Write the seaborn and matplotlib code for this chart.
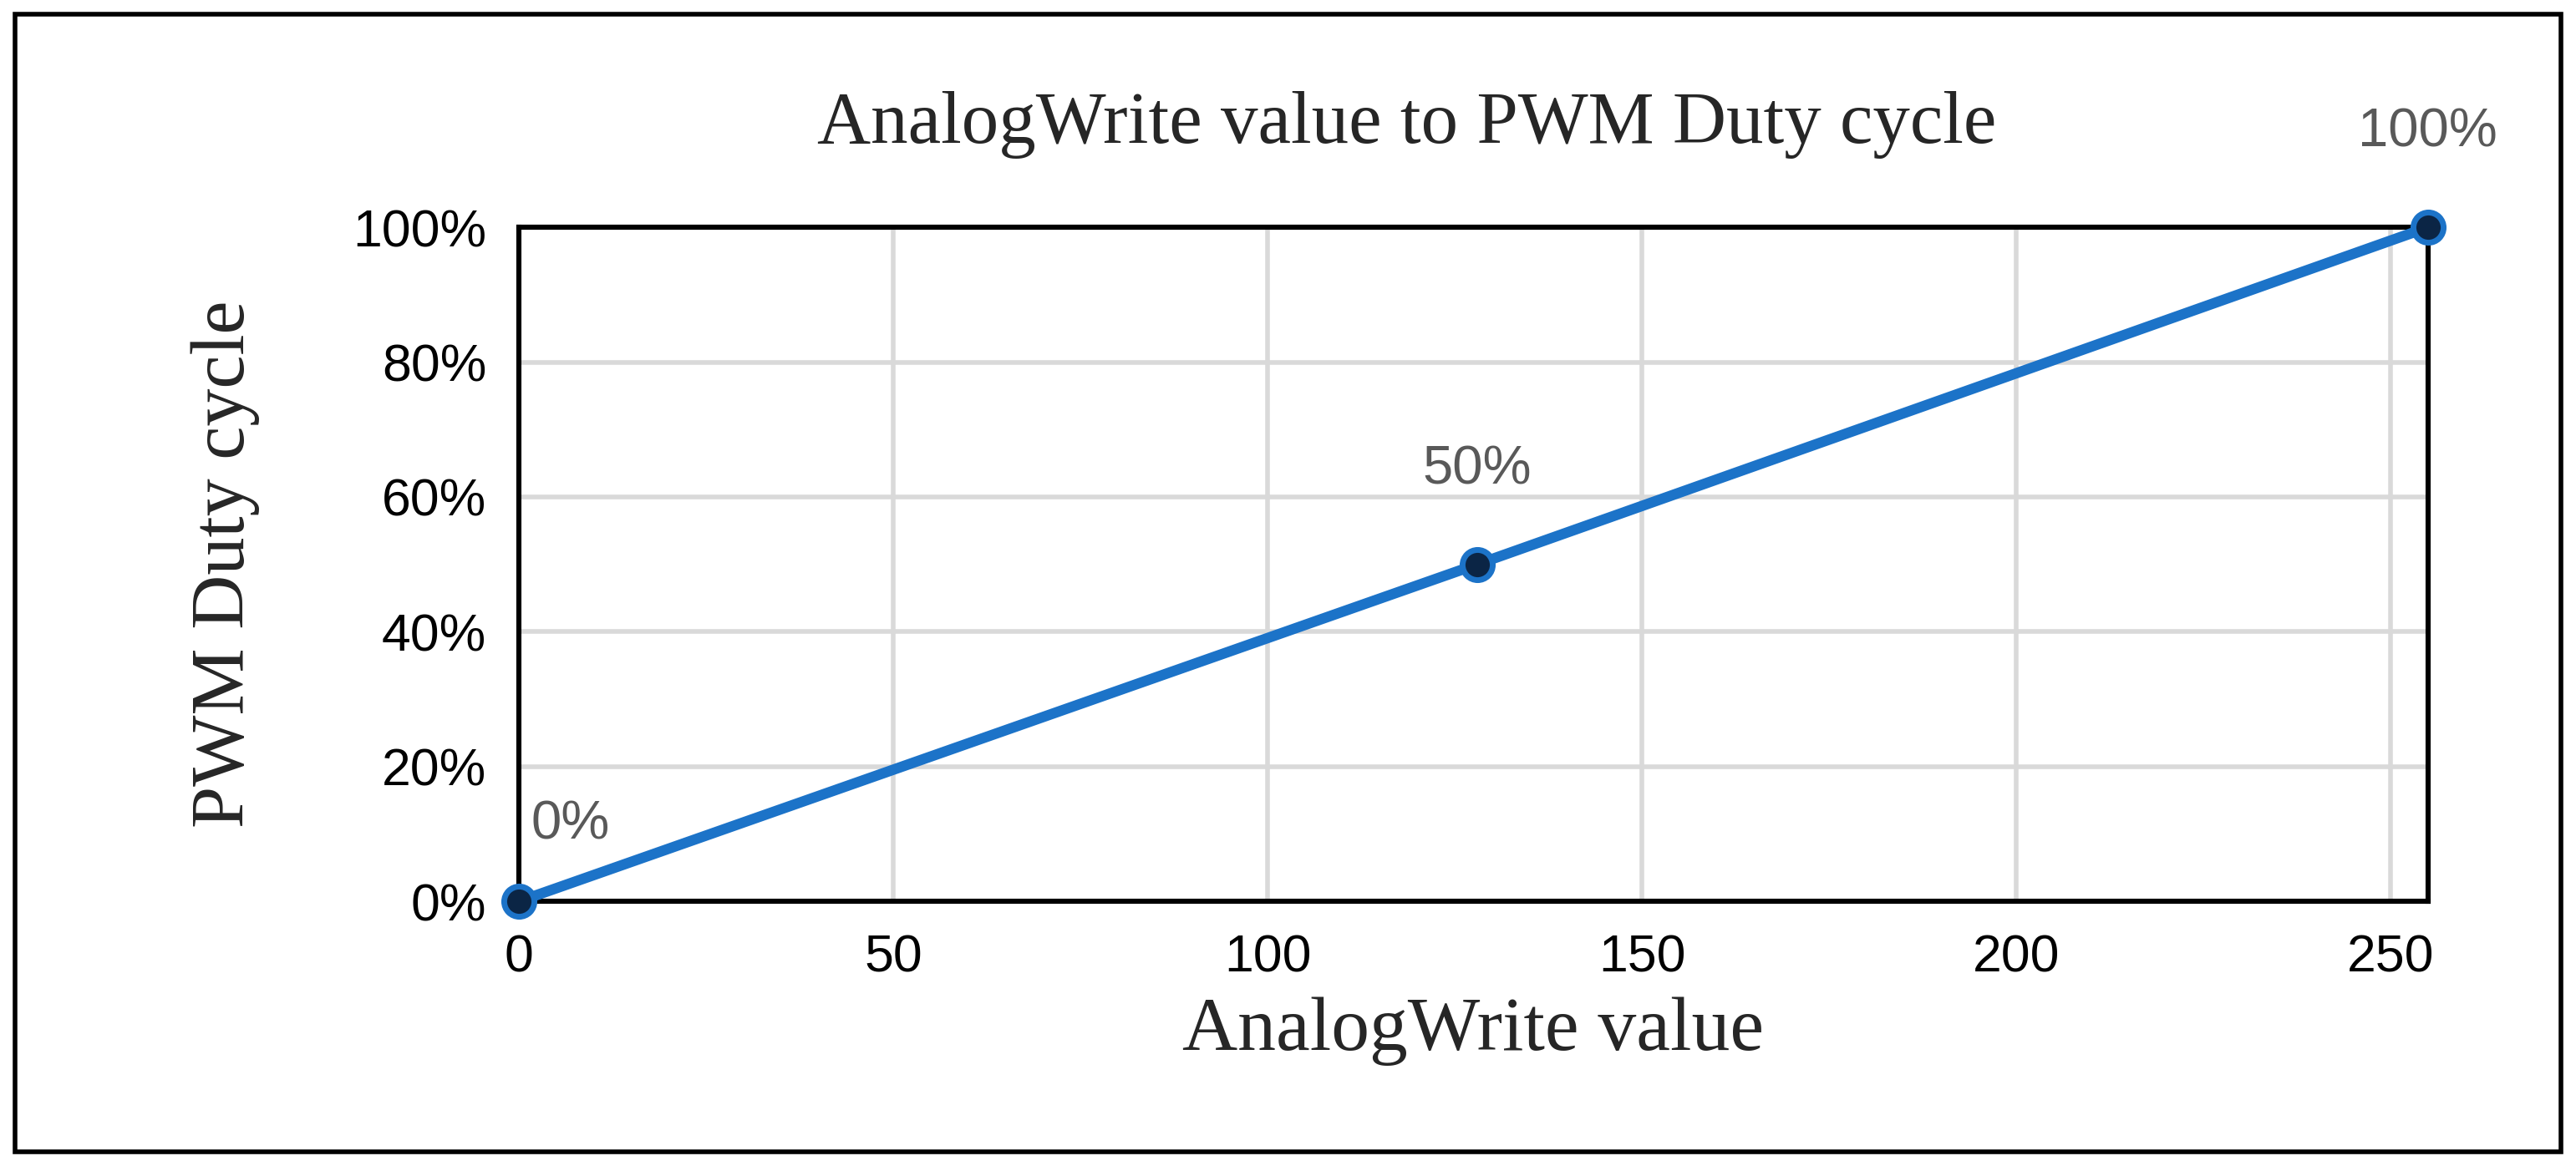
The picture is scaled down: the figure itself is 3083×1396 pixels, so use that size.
import matplotlib
matplotlib.use("Agg")
import matplotlib.pyplot as plt
import matplotlib.ticker as mticker
import seaborn as sns
import pandas as pd

analog_values = [0, 128, 255]
duty_cycle = [0.0, 0.5, 1.0]
point_labels = ["0%", "50%", "100%"]

sns.set_theme(style="white")
plt.rcParams['font.family'] = ['Liberation Sans', 'DejaVu Sans']

df = pd.DataFrame({"x": analog_values, "y": duty_cycle})

fig = plt.figure(figsize=(15.415, 6.98), dpi=200)
ax = fig.add_axes([0.2015, 0.227, 0.741, 0.578])

sns.lineplot(data=df, x="x", y="y", ax=ax, color="#1C73C8", linewidth=4.5,
             marker="o", markersize=13, markerfacecolor="#0B2545",
             markeredgecolor="#1C73C8", markeredgewidth=2.5, zorder=5, clip_on=False)

ax.set_xlim(0, 255)
ax.set_ylim(0, 1)
ax.set_xticks([0, 50, 100, 150, 200, 250])
ax.set_yticks([0, 0.2, 0.4, 0.6, 0.8, 1.0])
ax.yaxis.set_major_formatter(mticker.PercentFormatter(1.0, decimals=0))
ax.grid(True, color="#D9D9D9", linewidth=2)
ax.set_axisbelow(True)
for s in ax.spines.values():
    s.set_color("black")
    s.set_linewidth(2.2)
ax.tick_params(axis="both", labelsize=22.5, colors="black", pad=14, length=0)

offsets = [(22, 22), (0, 30), (0, 30)]
for x, y, lab, off in zip(analog_values, duty_cycle, point_labels, offsets):
    ax.annotate(lab, (x, y), xytext=off, textcoords="offset points",
                ha="center", va="bottom", fontsize=23.5, color="#595959")

serif = ['Liberation Serif', 'DejaVu Serif']
ax.set_xlabel("AnalogWrite value", fontsize=33, family=serif, labelpad=6)
ax.set_ylabel("PWM Duty cycle", fontsize=32.5, family=serif, labelpad=40)
fig.text(0.546, 0.893, "AnalogWrite value to PWM Duty cycle", ha="center",
         va="center", fontsize=32, family=serif)

frame = plt.Rectangle((0.006, 0.012), 0.988, 0.976, transform=fig.transFigure,
                      fill=False, edgecolor="black", linewidth=2)
fig.patches.append(frame)

fig.savefig("out.png", dpi=200, facecolor="white")
